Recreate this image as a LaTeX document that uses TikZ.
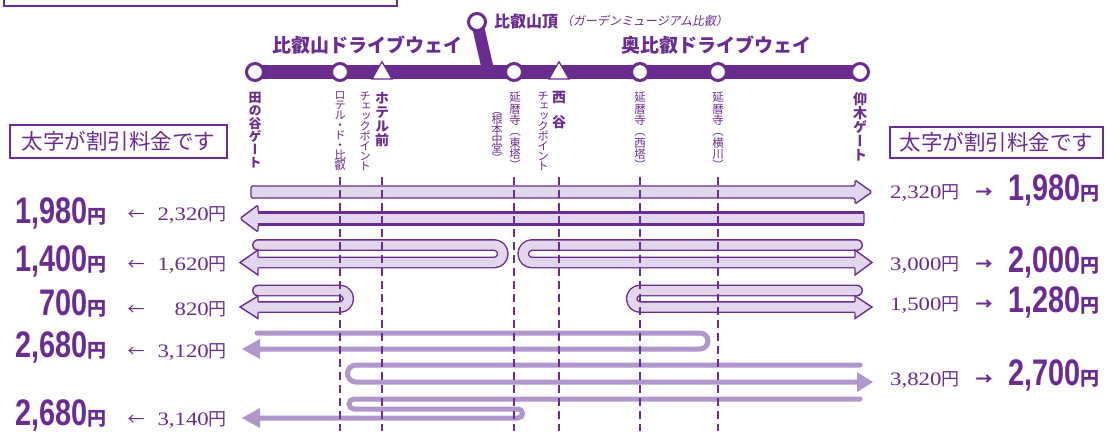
\documentclass[tikz,border=0pt]{standalone}
\usepackage{fontspec}
\usetikzlibrary{shapes.geometric}
\newfontfamily\jp{Noto Sans CJK JP}
\newfontfamily\jpv[RawFeature=+vert]{Noto Sans CJK JP}
\newfontfamily\bignum[FakeStretch=0.78]{Liberation Sans}
\newfontfamily\sernum[FakeStretch=1.2]{Liberation Serif}
\definecolor{pdark}{HTML}{6A2C91}
\definecolor{plight}{HTML}{E2D6EC}
\definecolor{pmid}{HTML}{B096CB}
\newcommand\BigYen[1]{{\bignum\bfseries\fontsize{37}{37}\selectfont #1}{\jp\bfseries\fontsize{19}{19}\selectfont 円}}
\newcommand\SmYen[1]{{\sernum\fontsize{19}{19}\selectfont #1}{\jp\fontsize{18}{18}\selectfont 円}}
\newcommand\ArrL{{\jp\fontsize{17}{17}\selectfont ←}}
\newcommand\ArrR{{\jp\bfseries\fontsize{17}{17}\selectfont →}}
\newcommand\VF[3]{\jpv#1\fontsize{#2}{#3}\selectfont\lineskiplimit=-20pt\relax}
\tikzset{
  stn/.style={circle, fill=white, draw=pdark, line width=3pt, minimum size=17pt, inner sep=0pt},
  chk/.style={regular polygon, regular polygon sides=3, fill=white, draw=pdark, line width=1.2pt, minimum size=23pt, inner sep=0pt},
  route/.style={draw=pdark, line width=14pt},
  branch/.style={draw=pdark, line width=12pt},
  band/.style={draw=pdark, line width=1.4pt, double=plight, double distance=9pt, line cap=round, line join=round},
  bandhead/.style={fill=plight, draw=pdark, line width=1.4pt, line join=miter},
  flatarrow/.style={fill=plight, draw=pdark, line width=1.4pt, rounded corners=1.5pt},
  thinroute/.style={draw=pmid, line width=5pt, line cap=round},
  thinhead/.style={fill=pmid},
  guide/.style={draw=pdark, line width=1.6pt, dash pattern=on 8pt off 5pt},
  lab/.style={inner sep=0pt, text=pdark},
  vlab/.style={inner sep=0pt, text=pdark, align=center, anchor=north},
  notebox/.style={draw=pdark, line width=1.8pt, inner sep=0pt, text=pdark, font=\jp\fontsize{21.5}{22}\selectfont},
  roadname/.style={inner sep=0pt, text=pdark, font=\jp\bfseries\fontsize{19}{19}\selectfont}
}
\begin{document}
\begin{tikzpicture}[x=1pt,y=-1pt]
\useasboundingbox (0,0) rectangle (1108,431);
\fill[white] (0,0) rectangle (1108,431);

% top box
\draw[pdark, line width=1.8pt] (4,-10) rectangle (397,6);

% route line and stations
\coordinate (p1) at (255,72);
\coordinate (p2) at (340,72);
\coordinate (p3) at (514,72);
\coordinate (p4) at (640,72);
\coordinate (p5) at (718,72);
\coordinate (p6) at (860,72);
\coordinate (pt) at (477,22);
\coordinate (pj) at (488,70);
\draw[route] (p1) -- (p6);
\draw[branch] (pt) -- (pj);
\node[stn] (s1) at (p1) {};
\node[stn] (s2) at (p2) {};
\node[stn] (s3) at (p3) {};
\node[stn] (s4) at (p4) {};
\node[stn] (s5) at (p5) {};
\node[stn] (s6) at (p6) {};
\node[stn] (st) at (pt) {};
\node[chk] (c1) at (382,73.2) {};
\node[chk] (c2) at (559,73.2) {};

% road names and summit
\node[roadname] (rn1) at (367,45) {比叡山ドライブウェイ};
\node[roadname] (rn2) at (716,45) {奥比叡ドライブウェイ};
\node[lab, anchor=west, font=\jp\bfseries\fontsize{16}{16}\selectfont] (sum) at (494,21) {比叡山頂};
\node[lab, anchor=west, font=\jp\fontsize{12}{12}\selectfont\addfontfeature{FakeSlant=0.18}] (sum2) at (561,21) {（ガーデンミュージアム比叡）};

% vertical station labels
\node[vlab, font=\VF{\bfseries}{13}{13}] (v1) at (255,92) {田\\の\\谷\\ゲ\\ー\\ト};
\node[vlab, font=\VF{}{11.5}{10}] (v2) at (340,92) {ロ\\テ\\ル\\・\\ド\\・\\比\\叡};
\node[vlab, font=\VF{}{11.5}{10}] (v3) at (365,92) {チ\\ェ\\ッ\\ク\\ポ\\イ\\ン\\ト};
\node[vlab, font=\VF{\bfseries}{14}{14}] (v4) at (382,92) {ホ\\テ\\ル\\前};
\node[vlab, font=\VF{}{11.5}{11.3}] (v5) at (515,92) {延\\暦\\寺\\（\\東\\塔\\）};
\node[vlab, font=\VF{}{11}{9.6}] (v6) at (497,112) {（\\根\\本\\中\\堂\\）};
\node[vlab, font=\VF{}{11.5}{10}] (v7) at (543,92) {チ\\ェ\\ッ\\ク\\ポ\\イ\\ン\\ト};
\node[vlab, font=\VF{\bfseries}{14}{25}] (v8) at (559,91) {西\\谷};
\node[vlab, font=\VF{}{11.5}{11.3}] (v9) at (640,92) {延\\暦\\寺\\（\\西\\塔\\）};
\node[vlab, font=\VF{}{11.5}{11.3}] (v10) at (718,92) {延\\暦\\寺\\（\\横\\川\\）};
\node[vlab, font=\VF{\bfseries}{14}{14}] (v11) at (860,92) {仰\\木\\ゲ\\ー\\ト};

% note boxes
\node[notebox, minimum width=217pt, minimum height=33pt] (nb1) at (118.5,141.5) {太字が割引料金です};
\node[notebox, minimum width=213pt, minimum height=31pt] (nb2) at (996.5,142.5) {太字が割引料金です};

% row 1: right arrow
\draw[flatarrow] (251,186) -- (855,186) -- (855,180) -- (872,192) -- (855,204) -- (855,198) -- (251,198) -- cycle;
% row 2: left arrow
\draw[flatarrow] (864,212) -- (258,212) -- (258,205) -- (240,218.5) -- (258,232) -- (258,225) -- (864,225) -- cycle;
\draw[pdark, line width=3pt] (258,212.5) -- (864,212.5);
\draw[pdark, line width=3pt] (258,224.5) -- (864,224.5);

% row 3
\draw[band] (258,245) -- (494,245) arc[start angle=-90,end angle=90,radius=8.75] -- (258,262.5);
\filldraw[bandhead] (258,257) -- (258,250) -- (240,262.5) -- (258,275) -- (258,268);
\draw[band] (857,245) -- (532,245) arc[start angle=270,end angle=90,radius=8.75] -- (855,262.5);
\filldraw[bandhead] (855,257) -- (855,250) -- (872,262.5) -- (855,275) -- (855,268);

% row 4
\draw[band] (258,290.5) -- (340,290.5) arc[start angle=-90,end angle=90,radius=8.25] -- (258,307);
\filldraw[bandhead] (258,301.5) -- (258,296) -- (240,307) -- (258,318.5) -- (258,312.5);
\draw[band] (857,290.5) -- (640,290.5) arc[start angle=270,end angle=90,radius=8.25] -- (855,307);
\filldraw[bandhead] (855,301.5) -- (855,296) -- (872,307) -- (855,318.5) -- (855,312.5);

% row 5
\draw[thinroute] (257,333) -- (700,333) arc[start angle=-90,end angle=90,radius=8] -- (260,349);
\fill[thinhead] (260,339) -- (242,349) -- (260,359) -- cycle;
% row 6
\draw[thinroute] (860,365) -- (356,365) arc[start angle=270,end angle=90,radius=8.5] -- (857,382);
\fill[thinhead] (857,372) -- (873,382) -- (857,392) -- cycle;
% row 7
\draw[thinroute] (860,399) -- (354,399) arc[start angle=270,end angle=90,radius=5] -- (518,409) arc[start angle=-90,end angle=90,radius=4.5] -- (260,418);
\fill[thinhead] (260,408) -- (242,418) -- (260,428) -- cycle;

% guide lines
\foreach \gx in {340,382,514,559,640,718}{
  \draw[guide] (\gx,177) -- (\gx,431);
}

% left prices
\node[lab, anchor=base east] (l1) at (107,223) {\BigYen{1,980}};
\node[lab, anchor=base] (l1a) at (136,220) {\ArrL};
\node[lab, anchor=base east] (l1s) at (227,220) {\SmYen{2,320}};
\node[lab, anchor=base east] (l2) at (107,271) {\BigYen{1,400}};
\node[lab, anchor=base] (l2a) at (136,270) {\ArrL};
\node[lab, anchor=base east] (l2s) at (227,270) {\SmYen{1,620}};
\node[lab, anchor=base east] (l3) at (107,315) {\BigYen{700}};
\node[lab, anchor=base] (l3a) at (136,315) {\ArrL};
\node[lab, anchor=base east] (l3s) at (227,315) {\SmYen{820}};
\node[lab, anchor=base east] (l4) at (107,357) {\BigYen{2,680}};
\node[lab, anchor=base] (l4a) at (136,357) {\ArrL};
\node[lab, anchor=base east] (l4s) at (227,357) {\SmYen{3,120}};
\node[lab, anchor=base east] (l5) at (107,425) {\BigYen{2,680}};
\node[lab, anchor=base] (l5a) at (136,425) {\ArrL};
\node[lab, anchor=base east] (l5s) at (227,425) {\SmYen{3,140}};

% right prices
\node[lab, anchor=base west] (r1s) at (890,198) {\SmYen{2,320}};
\node[lab, anchor=base] (r1a) at (984,198) {\ArrR};
\node[lab, anchor=base east] (r1) at (1100,200) {\BigYen{1,980}};
\node[lab, anchor=base west] (r2s) at (890,270) {\SmYen{3,000}};
\node[lab, anchor=base] (r2a) at (984,270) {\ArrR};
\node[lab, anchor=base east] (r2) at (1100,272) {\BigYen{2,000}};
\node[lab, anchor=base west] (r3s) at (890,310) {\SmYen{1,500}};
\node[lab, anchor=base] (r3a) at (984,310) {\ArrR};
\node[lab, anchor=base east] (r3) at (1100,312) {\BigYen{1,280}};
\node[lab, anchor=base west] (r4s) at (890,385) {\SmYen{3,820}};
\node[lab, anchor=base] (r4a) at (984,385) {\ArrR};
\node[lab, anchor=base east] (r4) at (1100,385) {\BigYen{2,700}};
\end{tikzpicture}
\end{document}
